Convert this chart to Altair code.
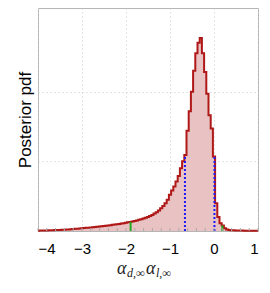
import altair as alt
import pandas as pd

# histogram: bins of width 0.05 centred on -4.00, -3.95, ..., 1.00 (clipped at the edges)
bin_width = 0.05
density = [
    0.005, 0.006, 0.007, 0.008, 0.008, 0.009, 0.010, 0.011, 0.013, 0.014,
    0.016, 0.017, 0.019, 0.021, 0.023, 0.025, 0.028, 0.031, 0.034, 0.037,
    0.040, 0.043, 0.045, 0.048, 0.050, 0.054, 0.057, 0.060, 0.063, 0.067,
    0.071, 0.075, 0.079, 0.083, 0.088, 0.092, 0.097, 0.102, 0.107, 0.113,
    0.119, 0.125, 0.130, 0.137, 0.144, 0.151, 0.160, 0.170, 0.180, 0.190,
    0.201, 0.215, 0.230, 0.250, 0.270, 0.295, 0.325, 0.360, 0.400, 0.450,
    0.520, 0.580, 0.640, 0.710, 0.790, 0.900, 1.000, 1.090, 1.440, 1.720,
    2.000, 2.300, 2.550, 2.700, 2.770, 2.550, 2.280, 1.970, 1.660, 1.470,
    1.070, 0.400, 0.200, 0.110, 0.080, 0.040, 0.022, 0.015, 0.011, 0.009,
    0.008, 0.007, 0.006, 0.006, 0.005, 0.005, 0.005, 0.004, 0.004, 0.004,
    0.004,
]
bin_left = [-4.0] + [round(-4 + bin_width * (i - 0.5), 4) for i in range(1, len(density))]

# credible interval markers
ci68_x = [-0.66, 0.01]
ci68_h = [1.09, 1.07]
ci95_x = [-1.895, 0.19]
ci95_h = [0.13, 0.08]

x_ticks = [-4, -3, -2, -1, 0, 1]
minor_ticks = [round(-4 + 0.2 * i, 2) for i in range(26)]

W, H = 220, 223
DARKRED = "#b01818"

hist = pd.DataFrame({"x": bin_left + [1.0], "d": density + [density[-1]]})
ci68 = pd.DataFrame({"x": ci68_x, "h": ci68_h, "z": [0.0, 0.0]})
ci95 = pd.DataFrame({"x": ci95_x, "h": ci95_h, "z": [0.0, 0.0]})
mt = pd.DataFrame({"x": minor_ticks})

xscale = alt.Scale(domain=[-4, 1], nice=False, zero=False)
yscale = alt.Scale(domain=[0, 3.2], nice=False, zero=True)

xaxis = alt.Axis(values=x_ticks, title=None, ticks=False, domain=False,
                 labelFontSize=15, labelPadding=10, labelColor="black",
                 labelFont="Liberation Sans",
                 grid=True, gridDash=[1, 3], gridColor="#c8c8c8",
                 labelExpr="replace(datum.label, '-', '\u2212')")
yaxis = alt.Axis(values=[1, 2], labels=False, ticks=False, domain=False,
                 title="Posterior pdf", titleFontSize=17, titleFontWeight="normal",
                 titleFont="Liberation Sans", titleColor="black", titlePadding=4,
                 grid=True, gridDash=[1, 3], gridColor="#c8c8c8")

area = alt.Chart(hist).mark_area(
    interpolate="step-after", color="#e9c3c3", opacity=1,
    line={"color": DARKRED, "strokeWidth": 2}
).encode(
    x=alt.X("x:Q", scale=xscale, axis=xaxis),
    y=alt.Y("d:Q", scale=yscale, axis=yaxis),
)

blue = alt.Chart(ci68).mark_rule(color="#1a1aff", strokeWidth=2, strokeDash=[2, 2]).encode(
    x="x:Q", y="z:Q", y2="h:Q")
green = alt.Chart(ci95).mark_rule(color="#22aa22", strokeWidth=2).encode(
    x="x:Q", y="z:Q", y2="h:Q")

ticks = alt.Chart(mt).mark_rule(color="#aaaaaa", strokeWidth=1).encode(
    x="x:Q",
    y=alt.value(H),
    y2=alt.value(H - 3),
)

# x-axis title: alpha_{d,inf} alpha_{l,inf}
title_text = ["\u03b1", "d,\u221e", "\u03b1", "l,\u221e"]
title_px = [79, 89, 108, 118]
title_py = [261, 265, 261, 265]
title_size = [18, 12, 18, 12]

title_layers = []
for t, px, py, s in zip(title_text, title_px, title_py, title_size):
    title_layers.append(
        alt.Chart(hist).mark_text(
            text=t, font="Liberation Serif", fontStyle="italic", align="left",
            baseline="middle", color="#222222", fontSize=s
        ).encode(x=alt.value(px), y=alt.value(py)).transform_filter("datum.x == -4")
    )

chart = alt.layer(area, blue, green, ticks, *title_layers).properties(
    width=W, height=H,
    autosize=alt.AutoSizeParams(type="none"),
    padding={"left": 30, "top": 0, "right": 4, "bottom": 48},
).configure_view(stroke="#b5b5b5", strokeWidth=1)

chart.save("out.html", embed_options={"renderer": "svg", "actions": False})
